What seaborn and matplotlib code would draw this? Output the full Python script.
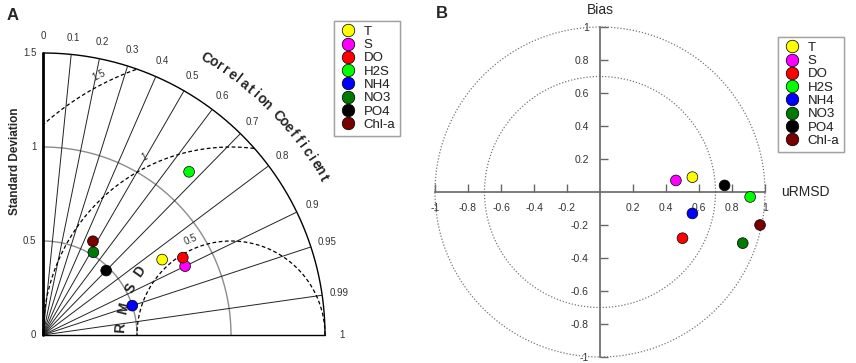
import numpy as np
import pandas as pd
import seaborn as sns
import matplotlib.pyplot as plt
from matplotlib.lines import Line2D

sns.set_style('white')
plt.rcParams['font.family'] = ['Liberation Sans', 'DejaVu Sans']

names = ['T', 'S', 'DO', 'H2S', 'NH4', 'NO3', 'PO4', 'Chl-a']
colors = ['#ffff00', '#ff00ff', '#ff0000', '#00ff00', '#0000ff', '#007a00', '#000000', '#7a0000']

# A - taylor diagram values
taylor_std = [0.75, 0.84, 0.85, 1.165, 0.50, 0.515, 0.48, 0.565]
taylor_corr = [0.845, 0.90, 0.875, 0.667, 0.95, 0.52, 0.70, 0.47]

# B - target diagram values
target_urmsd = [0.56, 0.46, 0.50, 0.91, 0.56, 0.865, 0.755, 0.97]
target_bias = [0.09, 0.07, -0.28, -0.03, -0.13, -0.31, 0.04, -0.20]

corr_ticks = [0, 0.1, 0.2, 0.3, 0.4, 0.5, 0.6, 0.7, 0.8, 0.9, 0.95, 0.99, 1]
std_ticks = [0, 0.5, 1, 1.5]
rmsd_levels = [0.5, 1, 1.5]
ref_std = 1.0
target_ticks = [-1, -0.8, -0.6, -0.4, -0.2, 0.2, 0.4, 0.6, 0.8, 1]
target_circles = [0.7, 1.0]

W, H = 856, 363
fig = plt.figure(figsize=(W / 100, H / 100), dpi=100)


def px_axes(x0, y0, scale, xlim, ylim):
    # put data (0,0) at pixel (x0, y0), scale = px per unit
    left = x0 + xlim[0] * scale
    right = x0 + xlim[1] * scale
    top = y0 - ylim[1] * scale
    bottom = y0 - ylim[0] * scale
    ax = fig.add_axes([left / W, 1 - bottom / H, (right - left) / W, (bottom - top) / H])
    return ax, xlim, ylim


# ---------------- A ----------------
axA, xlA, ylA = px_axes(43, 335, 188, (-0.2, 1.9), (-0.12, 1.76))
smax = 1.5
th = np.linspace(0, np.pi / 2, 300)
for r in [0.5, 1.0]:
    axA.plot(r * np.cos(th), r * np.sin(th), color='#8c8c8c', lw=1)
axA.plot(smax * np.cos(th), smax * np.sin(th), color='black', lw=1)
for c in corr_ticks[1:-1]:
    a = np.arccos(c)
    axA.plot([0, smax * np.cos(a)], [0, smax * np.sin(a)], color='#222222', lw=0.7)
axA.plot([0, 0], [0, smax], color='black', lw=2)
axA.plot([0, smax], [0, 0], color='black', lw=1)

# rmsd circles around the reference point
phi = np.linspace(0, np.pi, 600)
for R in rmsd_levels:
    x = ref_std + R * np.cos(phi)
    y = R * np.sin(phi)
    ok = (x ** 2 + y ** 2 <= smax ** 2) & (x >= 0)
    axA.plot(np.where(ok, x, np.nan), np.where(ok, y, np.nan), color='black', lw=0.9, ls=(0, (3, 2)))
lab_ang = {0.5: 113, 1: 116, 1.5: 117}
for R in rmsd_levels:
    t = np.radians(lab_ang[R])
    axA.text(ref_std + (R + 0.05) * np.cos(t), (R + 0.05) * np.sin(t), f'{R:g}', fontsize=7,
             color='#333333', ha='center', va='center', rotation=lab_ang[R] - 90)
for ch, ang in zip('RMSD', [176, 166, 155, 145]):
    t = np.radians(ang)
    axA.text(ref_std + 0.59 * np.cos(t), 0.59 * np.sin(t), ch, fontsize=10, fontweight='bold',
             ha='center', va='center', rotation=ang - 90)

for s in std_ticks:
    axA.text(-0.035, s, f'{s:g}', ha='right', va='center', fontsize=7, color='#333333')
axA.text(-0.149, 0.926, 'Standard Deviation', rotation=90, ha='center', va='center',
         fontsize=8.5, fontweight='bold')

for c in corr_ticks:
    a = np.arccos(c)
    axA.text(1.59 * np.cos(a), 1.59 * np.sin(a), f'{c:g}', ha='center', va='center',
             fontsize=7, color='#333333')

title = 'Correlation Coefficient'
angs = np.linspace(59.5, 29.3, len(title))
for ch, ang in zip(title, angs):
    t = np.radians(ang)
    axA.text(1.71 * np.cos(t), 1.71 * np.sin(t), ch, ha='center', va='center',
             rotation=ang - 90, fontsize=10, fontweight='bold')

std = np.array(taylor_std)
corr = np.array(taylor_corr)
dfA = pd.DataFrame({'name': names, 'x': std * corr, 'y': std * np.sqrt(1 - corr ** 2)})
sns.scatterplot(data=dfA, x='x', y='y', hue='name', palette=colors, s=60, edgecolor='black',
                linewidth=0.5, legend=False, ax=axA, zorder=5)
axA.set_xlim(xlA)
axA.set_ylim(ylA)
axA.axis('off')

# ---------------- B ----------------
axB, xlB, ylB = px_axes(600, 192, 165, (-1.1, 1.5), (-1.03, 1.12))
tt = np.linspace(0, 2 * np.pi, 400)
for r in target_circles:
    axB.plot(r * np.cos(tt), r * np.sin(tt), color='#777777', lw=0.9, ls=(0, (1, 1.5)))

dfB = pd.DataFrame({'name': names, 'urmsd': target_urmsd, 'bias': target_bias})
sns.scatterplot(data=dfB, x='urmsd', y='bias', hue='name', palette=colors, s=60, edgecolor='black',
                linewidth=0.5, legend=False, ax=axB, zorder=5)
axB.set_xlim(xlB)
axB.set_ylim(ylB)
axB.set_xlabel('')
axB.set_ylabel('')
for sp in ['top', 'right']:
    axB.spines[sp].set_visible(False)
for sp in ['left', 'bottom']:
    axB.spines[sp].set_position(('data', 0))
    axB.spines[sp].set_bounds(-1, 1)
    axB.spines[sp].set_color('#666666')
    axB.spines[sp].set_linewidth(1.2)
axB.set_xticks(target_ticks)
axB.set_yticks(target_ticks)
axB.set_xticklabels([f'{v:g}' for v in target_ticks])
axB.set_yticklabels([f'{v:g}' for v in target_ticks])
axB.tick_params(direction='in', length=6, width=1, color='#666666', labelsize=7.5,
                labelcolor='#333333', pad=8, bottom=True, left=True)
axB.text(0, 1.10, 'Bias', ha='center', va='center', fontsize=10)
axB.text(1.10, 0, 'uRMSD', ha='left', va='center', fontsize=10)

# legends
handles = [Line2D([], [], marker='o', ls='', markerfacecolor=c, markeredgecolor='black',
                  markeredgewidth=0.5, markersize=9) for c in colors]
for x0, y0 in [(334, 21), (778, 37)]:
    leg = fig.legend(handles, names, loc='upper left', bbox_to_anchor=(x0 / W, 1 - y0 / H),
                     frameon=True, fancybox=False, edgecolor='#999999', fontsize=9.5,
                     labelspacing=0.08, handletextpad=0.5, borderpad=0.35, handlelength=1.4,
                     borderaxespad=0)
    leg.get_frame().set_linewidth(1)
    fig.add_artist(leg)

fig.text(13 / W, 1 - 15 / H, 'A', fontsize=12, fontweight='bold', ha='center', va='center')
fig.text(442 / W, 1 - 14 / H, 'B', fontsize=12, fontweight='bold', ha='center', va='center')

fig.savefig('out.png', dpi=100)
